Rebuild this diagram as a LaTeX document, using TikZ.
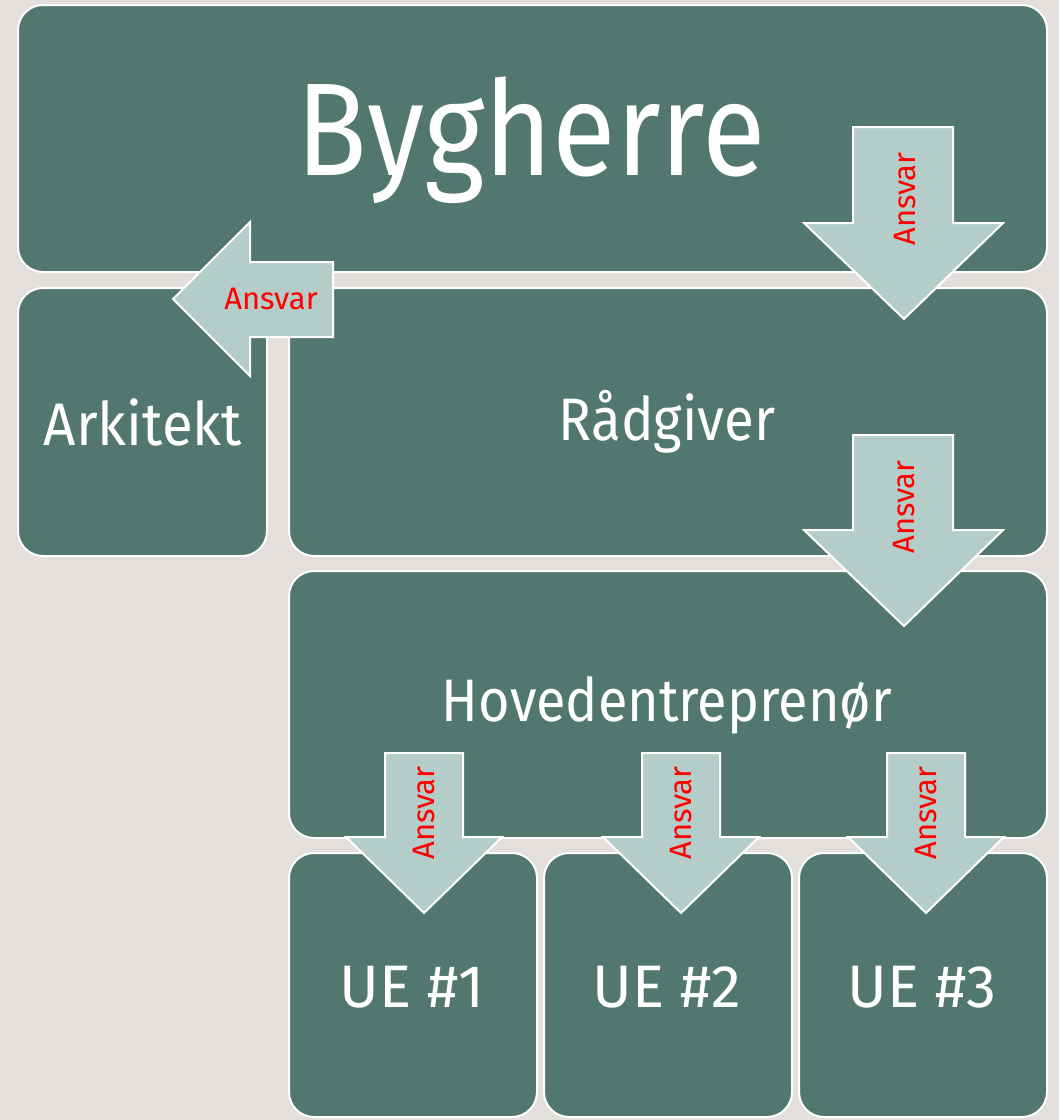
\documentclass[tikz,border=0pt]{standalone}
\usepackage{fontspec}
\setmainfont{Fira Sans}
\definecolor{bgc}{HTML}{E2DFDC}
\definecolor{boxc}{HTML}{52776F}
\definecolor{arrc}{HTML}{B4CDC8}
\begin{document}
\begin{tikzpicture}[x=1pt,y=-1pt,
  box/.style={fill=boxc,draw=white,line width=2pt,rounded corners=25pt},
  arr/.style={fill=arrc,draw=white,line width=2pt,line join=miter},
  lbl/.style={text=white,inner sep=0pt,font=\fontsize{60}{72}\selectfont},
  ans/.style={text=red,inner sep=0pt,font=\fontsize{31}{36}\selectfont}]
\fill[bgc] (0,0) rectangle (1059,1120);
\useasboundingbox (0,0) rectangle (1059,1120);
% boxes
\draw[box] (18,5) rectangle (1047,272);
\draw[box] (18,288) rectangle (267,556);
\draw[box] (289,288) rectangle (1047,556);
\draw[box] (289,571) rectangle (1047,838);
\draw[box] (289,853) rectangle (537,1117);
\draw[box] (544,853) rectangle (792,1117);
\draw[box] (799,853) rectangle (1047,1117);
% labels
\node[lbl,font=\fontsize{132}{150}\selectfont,xscale=0.88] (byg) at (531,140) {Bygherre};
\node[lbl,xscale=0.94] (ark) at (143,422) {Arkitekt};
\node[lbl,xscale=0.91] (rad) at (667,422) {Rådgiver};
\node[lbl,xscale=0.9] (hov) at (667,705) {Hovedentreprenør};
\node[lbl] (ue1) at (412,987) {UE \#1};
\node[lbl] (ue2) at (667,987) {UE \#2};
\node[lbl] (ue3) at (922,987) {UE \#3};
% arrows
\draw[arr] (853,127) -- (953,127) -- (953,223) -- (1003,223) -- (904,319) -- (804,223) -- (853,223) -- cycle;
\draw[arr] (853,435) -- (953,435) -- (953,530) -- (1003,530) -- (904,626) -- (804,530) -- (853,530) -- cycle;
\draw[arr] (333,262) -- (250,262) -- (250,222) -- (173,299) -- (250,376) -- (250,337) -- (333,337) -- cycle;
\draw[arr] (385,753) -- (463,753) -- (463,837) -- (502,837) -- (424,913) -- (346,837) -- (385,837) -- cycle;
\draw[arr] (642,753) -- (720,753) -- (720,837) -- (759,837) -- (681,913) -- (603,837) -- (642,837) -- cycle;
\draw[arr] (887,753) -- (965,753) -- (965,837) -- (1004,837) -- (926,913) -- (848,837) -- (887,837) -- cycle;
\node[ans,rotate=90] (a1) at (905,199) {Ansvar};
\node[ans,rotate=90] (a2) at (904,507) {Ansvar};
\node[ans] (a3) at (271,299) {Ansvar};
\node[ans,rotate=90] (a4) at (424,813) {Ansvar};
\node[ans,rotate=90] (a5) at (681,813) {Ansvar};
\node[ans,rotate=90] (a6) at (926,813) {Ansvar};
\end{tikzpicture}
\end{document}
